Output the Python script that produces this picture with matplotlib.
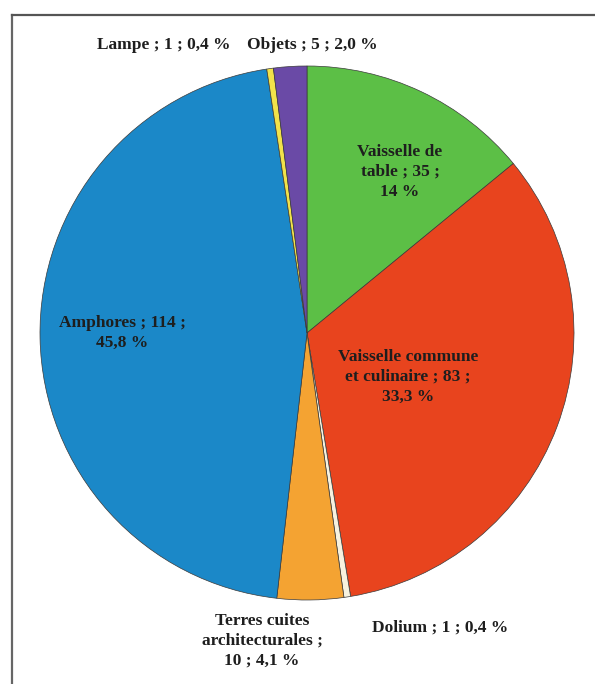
import matplotlib.pyplot as plt
from matplotlib.lines import Line2D

# Données du diagramme (nombre de fragments par catégorie)
categories = ['Vaisselle de table', 'Vaisselle commune et culinaire', 'Dolium',
              'Terres cuites architecturales', 'Amphores', 'Lampe', 'Objets']
counts = [35, 83, 1, 10, 114, 1, 5]
labels = ['Vaisselle de\ntable ; 35 ;\n14 %',
          'Vaisselle commune\net culinaire ; 83 ;\n33,3 %',
          'Dolium ; 1 ; 0,4 %',
          'Terres cuites\narchitecturales ;\n10 ; 4,1 %',
          'Amphores ; 114 ;\n45,8 %',
          'Lampe ; 1 ; 0,4 %',
          'Objets ; 5 ; 2,0 %']
colors = ['#5cbf46', '#e8441e', '#f7f2df', '#f4a332', '#1b88c8', '#f2e24a', '#6a4aa6']

W, H = 595, 684
cx, cy, R = 307, 333, 267  # centre et rayon en pixels


def px(x, y):
    # pixels de l'image -> coordonnées des données
    return (x - cx) / R, (cy - y) / R


fig = plt.figure(figsize=(W / 100, H / 100), dpi=100)
ax = fig.add_axes([0, 0, 1, 1])

ax.pie(counts, colors=colors, startangle=90, counterclock=False, radius=1,
       wedgeprops=dict(edgecolor='#3a3a3a', linewidth=0.5))

# pie() impose ses propres limites : on les remet après
ax.set_xlim(-cx / R, (W - cx) / R)
ax.set_ylim(-(H - cy) / R, cy / R)
ax.set_aspect('equal')
ax.axis('off')

# positions des étiquettes (pixels)
label_pos = [(400, 172), (408, 377), (440, 628), (262, 641),
             (122, 333), (164, 45), (312, 45)]
for txt, (x, y) in zip(labels, label_pos):
    ax.text(*px(x, y), txt, ha='center', va='center', fontsize=12.5,
            fontweight='bold', family=['Liberation Serif', 'DejaVu Serif'],
            color='#1e1e1e', linespacing=1.3)

# cadre (bord gauche et haut)
fig.add_artist(Line2D([12 / W, 12 / W], [0, 1 - 15 / H], color='#666666', lw=1.6,
                      transform=fig.transFigure))
fig.add_artist(Line2D([12 / W, 1], [1 - 15 / H, 1 - 15 / H], color='#555555', lw=1.6,
                      transform=fig.transFigure))

fig.savefig('out.png', dpi=100)
